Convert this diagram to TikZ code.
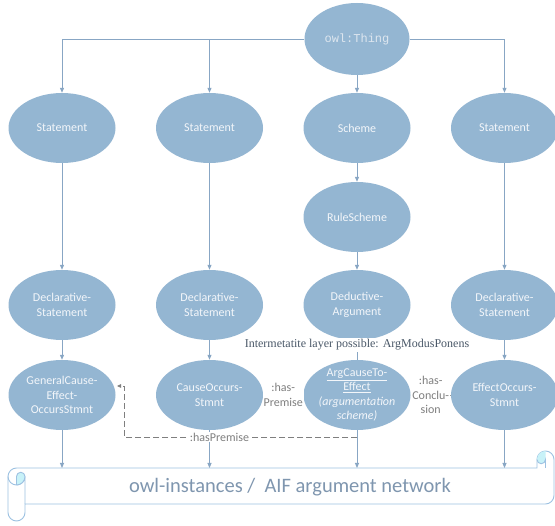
\documentclass[tikz,border=0pt]{standalone}
\usepackage{fontspec}
\setmainfont{Carlito}
\newfontfamily\thingfont{Liberation Mono}
\newfontfamily\interfont{Liberation Serif}
\usetikzlibrary{arrows.meta,shapes.geometric}
\definecolor{ellfill}{HTML}{94B6D2}
\definecolor{elltext}{HTML}{F3F6FA}
\definecolor{thingtext}{HTML}{DDE6EF}
\definecolor{conncol}{HTML}{88A6C4}
\definecolor{labgray}{HTML}{7F7F7F}
\definecolor{scrollline}{HTML}{9EC2E2}
\definecolor{scrollcyan}{HTML}{C8F2F8}
\definecolor{scrolltext}{HTML}{7F96AF}
\definecolor{intercol}{HTML}{4A5868}
\begin{document}
\begin{tikzpicture}[x=1pt,y=-1pt,
  ell/.style={ellipse, fill=ellfill, minimum width=107pt, minimum height=70pt,
    inner xsep=-12pt, inner ysep=-6pt, text=elltext, align=center,
    font=\fontsize{12}{14.5}\selectfont},
  conn/.style={draw=conncol, line width=0.9pt, -{Triangle[length=5pt,width=4pt]}},
  plainconn/.style={draw=conncol, line width=0.9pt},
  link/.style={draw=labgray!80, line width=0.8pt},
  dconn/.style={draw=labgray, line width=0.8pt, dash pattern=on 6pt off 3pt,
    -{Triangle[length=4pt,width=3.5pt]}},
  lbl/.style={fill=white, text=labgray, align=center, inner sep=1pt,
    font=\fontsize{12}{14.5}\selectfont},
  interlbl/.style={fill=white, text=intercol, inner sep=1.5pt,
    font=\interfont\fontsize{12}{14}\selectfont},
  scroll/.style={draw=scrollline, line width=0.9pt},
  scrolltxt/.style={text=scrolltext, font=\fontsize{20.5}{24}\selectfont, inner sep=0pt}
]
\useasboundingbox (0,0) rectangle (555,526);
\fill[white] (0,0) rectangle (555,526);

% nodes
\node[ell, minimum width=105pt, minimum height=72pt, text=thingtext,
  font=\thingfont\fontsize{12}{14}\selectfont] (thing) at (357,39) {owl:Thing};
\node[ell] (st1) at (62,128) {Statement};
\node[ell] (st2) at (209.5,128) {Statement};
\node[ell] (sch) at (357,128) {Scheme};
\node[ell] (st4) at (504.5,128) {Statement};
\node[ell] (rule) at (357,217) {RuleScheme};
\node[ell] (dec1) at (62,305) {Declarative-\\Statement};
\node[ell] (dec2) at (209.5,305) {Declarative-\\Statement};
\node[ell] (ded) at (357,305) {Deductive-\\Argument};
\node[ell] (dec4) at (504.5,305) {Declarative-\\Statement};
\node[ell] (gen) at (62,395) {GeneralCause-\\Effect-\\OccursStmnt};
\node[ell] (cause) at (209.5,395) {CauseOccurs-\\Stmnt};
\node[ell] (arg) at (357,395) {\underline{ArgCauseTo-}\\\underline{Effect}\\\textit{(argumentation}\\\textit{scheme)}};
\node[ell] (eff) at (504.5,395) {EffectOccurs-\\Stmnt};

% scroll
\filldraw[scroll, fill=white] (8,476.5) arc[start angle=180,end angle=270,radius=8.5]
  -- (537,468) -- (537,459.5) arc[start angle=180,end angle=360,radius=8.5]
  -- (554,495.5) arc[start angle=0,end angle=90,radius=8.5]
  -- (25,504) -- (25,512.5) arc[start angle=0,end angle=180,radius=8.5] -- cycle;
\draw[scroll] (8,476.5) arc[start angle=180,end angle=0,radius=8.5] -- (25,504);
\fill[scrollcyan] (16.5,485) arc[start angle=90,end angle=0,radius=8.5]
  arc[start angle=0,end angle=-180,radius=4.25] -- cycle;
\draw[scroll] (16.5,485) arc[start angle=90,end angle=0,radius=8.5]
  arc[start angle=0,end angle=-180,radius=4.25] -- (16.5,485);
\fill[scrollcyan] (545.5,451) arc[start angle=270,end angle=180,radius=8.5]
  arc[start angle=180,end angle=0,radius=4.25] -- cycle;
\draw[scroll] (537,459.5) arc[start angle=180,end angle=0,radius=4.25] -- (545.5,468);
\node[scrolltxt] (net) at (290,487) {owl-instances /~ AIF argument network};

% scroll arrow ends
\coordinate (s1) at (62,468);
\coordinate (s2) at (209.5,468);
\coordinate (s3) at (357,468);
\coordinate (s4) at (504.5,468);

% connectors from owl:Thing
\draw[conn] (thing.west) -| (st1.north);
\draw[conn] (thing.west) -| (st2.north);
\draw[conn] (thing.east) -| (st4.north);
\draw[conn] (thing) -- (sch);

% vertical chains
\draw[conn] (st1) -- (dec1);
\draw[conn] (st2) -- (dec2);
\draw[conn] (st4) -- (dec4);
\draw[conn] (sch) -- (rule);
\draw[conn] (rule) -- (ded);
\draw[conn] (dec1) -- (gen);
\draw[conn] (dec2) -- (cause);
\draw[conn] (dec4) -- (eff);
\draw[plainconn] (ded) -- node[pos=0.25, interlbl] {Intermetatite layer possible: ArgModusPonens} (arg);

\draw[conn] (gen) -- (s1);
\draw[conn] (cause) -- (s2);
\draw[conn] (arg) -- (s3);
\draw[conn] (eff) -- (s4);

% relations
\draw[link] (cause) -- node[lbl] {:has-\\Premise} (arg);
\draw[link] (arg) -- node[lbl] {:has-\\Conclu-\\sion} (eff);

% dashed hasPremise
\coordinate (dj) at (357,437);
\coordinate (dk) at (124,437);
\coordinate (dl) at (124,386);
\coordinate (dm) at (117,386);
\draw[dconn] (dj) -- node[pos=0.59, lbl] {:hasPremise} (dk) -- (dl) -- (dm);
\end{tikzpicture}
\end{document}
